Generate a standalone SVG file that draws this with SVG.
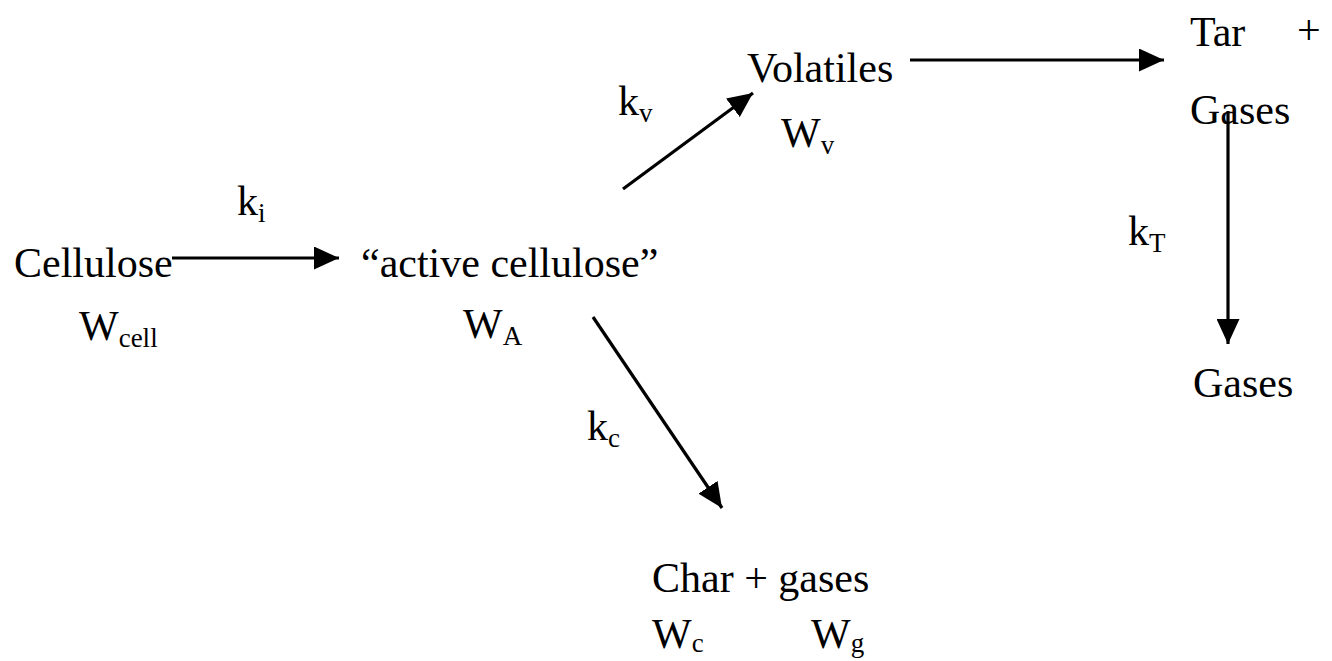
<svg xmlns="http://www.w3.org/2000/svg" width="1332" height="661" viewBox="0 0 1332 661">
<style>
text{font-family:"Liberation Serif","Times New Roman",serif;font-size:42px;fill:#000}
.sub{font-size:27px}
.conn{stroke:#000;stroke-width:3.2;fill:none}
</style>
<defs>
<marker id="ah" markerUnits="userSpaceOnUse" markerWidth="25" markerHeight="23" refX="25" refY="11.5" orient="auto">
<path d="M0,0 L25,11.5 L0,23 z" fill="#000"/>
</marker>
</defs>
<rect width="1332" height="661" fill="#fff"/>
<g id="connectors">
<line class="conn" x1="172" y1="258" x2="339" y2="258" marker-end="url(#ah)"/>
<line class="conn" x1="623" y1="189" x2="753" y2="93" marker-end="url(#ah)"/>
<line class="conn" x1="593" y1="317" x2="722" y2="508" marker-end="url(#ah)"/>
<line class="conn" x1="910" y1="60" x2="1164" y2="60" marker-end="url(#ah)"/>
<line class="conn" x1="1228" y1="111" x2="1228" y2="344" marker-end="url(#ah)"/>
</g>
<g id="cellulose">
<text x="14" y="277">Cellulose</text>
<text x="79" y="340">W<tspan class="sub" dy="7">cell</tspan></text>
</g>
<g id="label-ki"><text x="237" y="215">k<tspan class="sub" dy="7">i</tspan></text></g>
<g id="active-cellulose">
<text x="361" y="277">“active cellulose”</text>
<text x="463" y="338">W<tspan class="sub" dy="7">A</tspan></text>
</g>
<g id="label-kv"><text x="618" y="115">k<tspan class="sub" dy="7">v</tspan></text></g>
<g id="volatiles">
<text x="747" y="82">Volatiles</text>
<text x="781" y="147">W<tspan class="sub" dy="7">v</tspan></text>
</g>
<g id="label-kc"><text x="587" y="440">k<tspan class="sub" dy="7">c</tspan></text></g>
<g id="char-gases">
<text x="652" y="592">Char + gases</text>
<text x="652" y="648">W<tspan class="sub" dy="4">c</tspan></text>
<text x="811" y="648">W<tspan class="sub" dy="4">g</tspan></text>
</g>
<g id="tar-gases">
<text x="1190" y="46">Tar</text>
<text x="1297" y="44">+</text>
<text x="1190" y="124">Gases</text>
</g>
<g id="label-kt"><text x="1128" y="245">k<tspan class="sub" dy="7">T</tspan></text></g>
<g id="gases">
<text x="1193" y="397">Gases</text>
</g>
</svg>
